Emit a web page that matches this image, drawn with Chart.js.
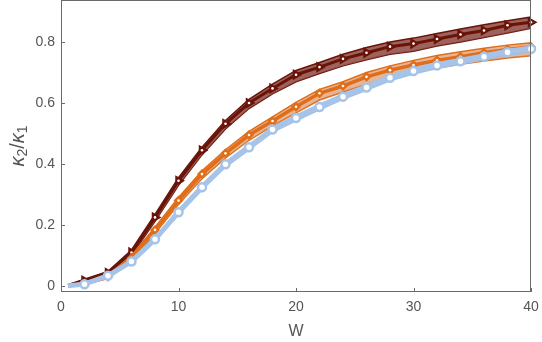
<!DOCTYPE html>
<html>
<head>
<meta charset="utf-8">
<script src="https://cdn.jsdelivr.net/npm/chart.js@4.4.1/dist/chart.umd.min.js"></script>
<style>
  html, body { margin: 0; padding: 0; background: #fff; }
  #wrap { width: 542px; height: 342px; }
</style>
</head>
<body>
<div id="wrap"><canvas id="plot"></canvas></div>
<script>
// W values (first point has no marker)
var wValues = [0.6, 2, 4, 6, 8, 10, 12, 14, 16, 18, 20, 22, 24, 26, 28, 30, 32, 34, 36, 38, 40];

// dark red series
var redMid   = [0.002, 0.018, 0.043, 0.110, 0.225, 0.345, 0.445, 0.532, 0.600, 0.648, 0.693, 0.718, 0.745, 0.765, 0.785, 0.795, 0.810, 0.825, 0.838, 0.855, 0.865];
var redHigh  = [0.004, 0.022, 0.048, 0.118, 0.235, 0.355, 0.455, 0.543, 0.612, 0.662, 0.707, 0.733, 0.760, 0.782, 0.800, 0.813, 0.828, 0.843, 0.857, 0.870, 0.882];
var redLow   = [0.000, 0.012, 0.036, 0.100, 0.212, 0.330, 0.430, 0.515, 0.582, 0.630, 0.670, 0.697, 0.722, 0.742, 0.760, 0.770, 0.787, 0.800, 0.815, 0.830, 0.845];

// orange series
var orangeMid  = [0.001, 0.008, 0.030, 0.092, 0.184, 0.280, 0.367, 0.435, 0.495, 0.541, 0.588, 0.632, 0.656, 0.686, 0.708, 0.725, 0.740, 0.752, 0.765, 0.776, 0.785];
var orangeHigh = [0.002, 0.012, 0.036, 0.100, 0.193, 0.290, 0.378, 0.447, 0.507, 0.555, 0.602, 0.645, 0.670, 0.700, 0.722, 0.740, 0.756, 0.768, 0.780, 0.790, 0.798];
var orangeLow  = [0.000, 0.005, 0.024, 0.082, 0.172, 0.268, 0.352, 0.420, 0.478, 0.525, 0.568, 0.610, 0.636, 0.662, 0.684, 0.700, 0.715, 0.727, 0.738, 0.748, 0.755];

// light blue series
var blueMid  = [0.001, 0.006, 0.034, 0.080, 0.153, 0.242, 0.324, 0.399, 0.455, 0.513, 0.551, 0.587, 0.621, 0.651, 0.683, 0.705, 0.723, 0.737, 0.752, 0.767, 0.777];
var blueHigh = [0.002, 0.010, 0.038, 0.086, 0.160, 0.250, 0.332, 0.407, 0.464, 0.521, 0.560, 0.596, 0.630, 0.660, 0.692, 0.714, 0.732, 0.746, 0.761, 0.776, 0.786];
var blueLow  = [0.000, 0.003, 0.029, 0.074, 0.146, 0.234, 0.316, 0.390, 0.446, 0.504, 0.542, 0.578, 0.612, 0.642, 0.673, 0.695, 0.713, 0.727, 0.742, 0.757, 0.767];

var xTicks = [0, 10, 20, 30, 40];
var yTicks = [0, 0.2, 0.4, 0.6, 0.8];

function pts(ys) {
    return wValues.map(function(w, i) { return {x: w, y: ys[i]}; });
}

// no marker on the first point
function markerSize(r) {
    return function(ctx) { return ctx.dataIndex === 0 ? 0 : r; };
}

function band(data, color, fillTo, fillColor) {
    return {
        data: pts(data),
        showLine: true,
        borderColor: color,
        borderWidth: 1.5,
        backgroundColor: fillColor,
        fill: fillTo,
        pointRadius: 0,
        tension: 0
    };
}

function dots(data) {
    return {
        data: pts(data),
        showLine: false,
        pointRadius: markerSize(1.3),
        pointBackgroundColor: '#fff',
        pointBorderWidth: 0,
        fill: false
    };
}

var red = '#6a1308', orange = '#e06d18', blue = '#a6c4e9';

var datasets = [
    // 0..3 blue (drawn on top)
    dots(blueMid),
    {
        data: pts(blueMid), showLine: true, borderColor: blue, borderWidth: 5, tension: 0, fill: false,
        pointStyle: 'circle', pointRadius: markerSize(4), pointBorderWidth: 2.5,
        pointBorderColor: blue, pointBackgroundColor: '#fff'
    },
    band(blueHigh, blue, 3, 'rgba(160, 172, 196, 0.55)'),
    band(blueLow, blue, false, 'rgba(0,0,0,0)'),
    // 4..7 orange
    dots(orangeMid),
    {
        data: pts(orangeMid), showLine: true, borderColor: orange, borderWidth: 3.5, tension: 0, fill: false,
        pointStyle: 'rectRot', pointRadius: markerSize(5), pointBorderWidth: 0,
        pointBackgroundColor: orange
    },
    band(orangeHigh, orange, 7, 'rgba(214, 130, 80, 0.6)'),
    band(orangeLow, orange, false, 'rgba(0,0,0,0)'),
    // 8..11 dark red
    dots(redMid),
    {
        data: pts(redMid), showLine: true, borderColor: red, borderWidth: 3, tension: 0, fill: false,
        pointStyle: 'triangle', rotation: 90, pointRadius: markerSize(6.5), pointBorderWidth: 0,
        pointBackgroundColor: red
    },
    band(redHigh, red, 11, 'rgba(140, 70, 62, 0.85)'),
    band(redLow, red, false, 'rgba(0,0,0,0)')
];

// frame with inward ticks, like the reference
var framePlugin = {
    id: 'frame',
    afterDatasetsDraw: function(chart) {
        var c = chart.ctx, a = chart.chartArea;
        var xs = chart.scales.x, ys = chart.scales.y;
        c.save();
        c.strokeStyle = '#6a6a6a';
        c.lineWidth = 1;
        c.strokeRect(a.left + 0.5, a.top + 0.5, a.right - a.left - 1, a.bottom - a.top - 1);
        c.beginPath();
        xTicks.forEach(function(v) {
            var px = Math.round(xs.getPixelForValue(v)) + 0.5;
            c.moveTo(px, a.bottom);
            c.lineTo(px, a.bottom - 4);
        });
        yTicks.forEach(function(v) {
            var py = Math.round(ys.getPixelForValue(v)) + 0.5;
            c.moveTo(a.left, py);
            c.lineTo(a.left + 4, py);
        });
        c.stroke();
        c.restore();
    }
};

// y title with italic kappa and real subscripts
var yTitlePlugin = {
    id: 'ytitle',
    afterDraw: function(chart) {
        var c = chart.ctx, a = chart.chartArea;
        var big = "italic 20px 'Liberation Sans', Arial, sans-serif";
        var reg = "20px 'Liberation Sans', Arial, sans-serif";
        var sub = "14px 'Liberation Sans', Arial, sans-serif";
        var parts = [
            {t: 'κ', f: big, dy: 0},
            {t: '2', f: sub, dy: 3},
            {t: '/', f: reg, dy: 0},
            {t: 'κ', f: big, dy: 0},
            {t: '1', f: sub, dy: 3}
        ];
        c.save();
        var total = 0;
        parts.forEach(function(p) { c.font = p.f; p.w = c.measureText(p.t).width; total += p.w; });
        c.translate(24, (a.top + a.bottom) / 2);
        c.rotate(-Math.PI / 2);
        c.fillStyle = '#555';
        c.textBaseline = 'alphabetic';
        var x = -total / 2;
        parts.forEach(function(p) {
            c.font = p.f;
            c.fillText(p.t, x, p.dy);
            x += p.w;
        });
        c.restore();
    }
};

var font = {family: "'Liberation Sans', Arial, sans-serif", size: 14};

new Chart(document.getElementById('plot'), {
    type: 'scatter',
    data: {datasets: datasets},
    plugins: [framePlugin, yTitlePlugin],
    options: {
        responsive: true,
        maintainAspectRatio: false,
        animation: false,
        clip: false,
        layout: {autoPadding: false, padding: {left: 0, right: 11, top: 0, bottom: 0}},
        plugins: {legend: {display: false}, tooltip: {enabled: false}},
        scales: {
            x: {
                type: 'linear', min: 0, max: 40,
                grid: {display: false, drawTicks: false},
                border: {display: false},
                afterBuildTicks: function(s) { s.ticks = xTicks.map(function(v) { return {value: v}; }); },
                afterFit: function(s) { s.height = 50; s.paddingLeft = 0; s.paddingRight = 0; },
                ticks: {color: '#555', font: font, padding: 7, maxRotation: 0},
                title: {display: true, text: 'W', color: '#555', font: {family: font.family, size: 16}, padding: {top: 0, bottom: 1}}
            },
            y: {
                type: 'linear', min: -0.0197, max: 0.938,
                grid: {display: false, drawTicks: false},
                border: {display: false},
                afterBuildTicks: function(s) { s.ticks = yTicks.map(function(v) { return {value: v}; }); },
                afterFit: function(s) { s.width = 61; s.paddingTop = 0; s.paddingBottom = 0; },
                ticks: {
                    color: '#555', font: font, padding: 6,
                    callback: function(v) { return v === 0 ? '0' : v.toFixed(1); }
                },
                title: {display: false}
            }
        }
    }
});
</script>
</body>
</html>
